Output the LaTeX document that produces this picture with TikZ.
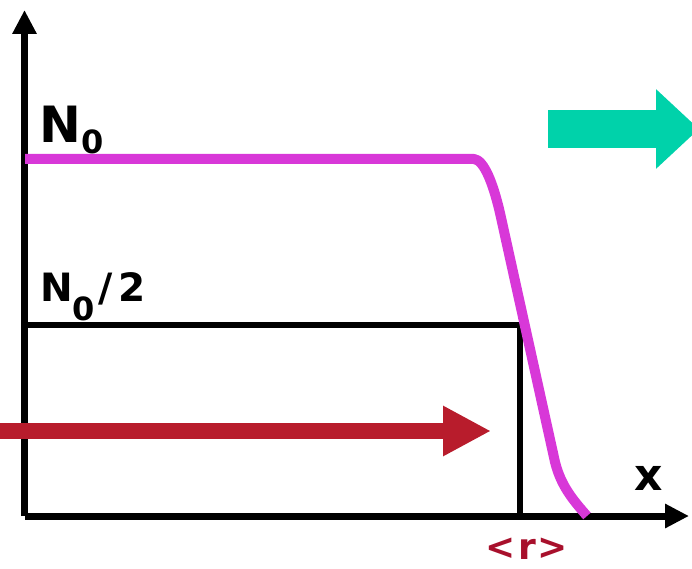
\documentclass[tikz,border=0pt]{standalone}
\usepackage{fontspec}
\setmainfont{DejaVu Sans}
\usepackage{xcolor}
\usetikzlibrary{arrows.meta}
\definecolor{curvemag}{RGB}{216,56,216}
\definecolor{beamred}{RGB}{184,28,44}
\definecolor{beamteal}{RGB}{0,210,170}
\definecolor{labelred}{RGB}{168,16,44}

\begin{document}
\begin{tikzpicture}[x=1pt, y=-1pt,
  axis/.style={line width=7, -{Triangle[length=24pt, width=23pt]}},
  level/.style={line width=6.5},
  profile/.style={curvemag, line width=10, line join=round},
  beam/.style={line width=#1},
  lbl/.style={inner sep=0, anchor=base west, font=\bfseries}]

\clip (0,0) rectangle (692,569);

\coordinate (O) at (24.5,516);
\coordinate (X) at (689,516);
\coordinate (Y) at (24.5,10);
\coordinate (H1) at (24.5,325);
\coordinate (H2) at (520,325);
\coordinate (H3) at (520,516);
\coordinate (C0) at (25,159);
\coordinate (C1) at (474,159);
\coordinate (C2) at (500,213);
\coordinate (C3) at (555,462);
\coordinate (C4) at (587,516);
\coordinate (B0) at (0,431);
\coordinate (B1) at (491,431);
\coordinate (T0) at (548,129);
\coordinate (T1) at (699,129);

\draw[axis] (O) -- (Y);
\draw[axis] (O) -- (X);

\draw[level] (H1) -- (H2) -- (H3);

\draw[profile] (C0) -- (C1) .. controls +(10,1) and +(-7,-30) .. (C2) -- (C3) .. controls +(6,24) and +(-14,-16) .. (C4);

\draw[beam=16, beamred, -{Triangle[length=48pt, width=47pt]}] (B0) -- (B1);
\draw[beam=38, beamteal, -{Triangle[length=43pt, width=77pt]}] (T0) -- (T1);

\node[lbl, font=\bfseries\fontsize{50}{50}\selectfont] (N0) at (39,143) {N\raisebox{-11pt}{\fontsize{32}{32}\selectfont 0}};
\node[lbl, font=\bfseries\fontsize{39}{39}\selectfont] (Nhalf) at (40,301) {N\raisebox{-19pt}{\fontsize{32}{32}\selectfont 0}\kern3pt/\kern6pt2};
\node[inner sep=0, font=\bfseries\fontsize{44}{44}\selectfont] (xlab) at (649,478) {x};
\node[inner sep=0, anchor=base, text=labelred, font=\bfseries\fontsize{36}{36}\selectfont] (rlab) at (527,559) {<\kern2pt r\kern2pt>};

\end{tikzpicture}
\end{document}
